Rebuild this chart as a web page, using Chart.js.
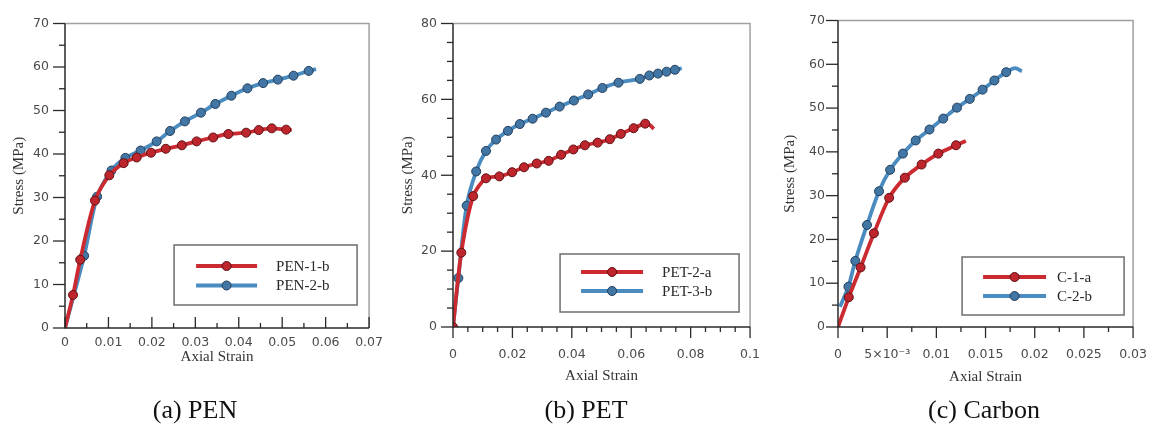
<!DOCTYPE html>
<html><head><meta charset="utf-8">
<script src="https://cdn.jsdelivr.net/npm/chart.js@4.4.0/dist/chart.umd.min.js"></script>
<style>
body{margin:0;background:#fff;width:1167px;height:429px;overflow:hidden;position:relative}
.p{position:absolute;top:0;width:390px;height:429px}
</style></head><body>
<div class="p" style="left:0px"><canvas id="ca"></canvas></div>
<div class="p" style="left:390px"><canvas id="cb"></canvas></div>
<div class="p" style="left:777px"><canvas id="cc"></canvas></div>
<script>
// ---------- data ----------
const PEN1B_STRAIN = [0, 0.00185, 0.0035, 0.0069, 0.0102, 0.0135, 0.0165, 0.0198, 0.0232, 0.0269, 0.0303, 0.0341, 0.0376, 0.0417, 0.0446, 0.0476, 0.0509, 0.0522];
const PEN1B_STRESS = [0, 7.6, 15.7, 29.3, 35.1, 37.9, 39.2, 40.3, 41.2, 42.0, 42.9, 43.8, 44.6, 44.9, 45.5, 45.9, 45.6, 45.5];
const PEN2B_STRAIN = [0, 0.0044, 0.0074, 0.0107, 0.0139, 0.0174, 0.0211, 0.0242, 0.0276, 0.0313, 0.0346, 0.0383, 0.0420, 0.0456, 0.0490, 0.0526, 0.0561, 0.0578];
const PEN2B_STRESS = [0, 16.6, 30.2, 36.2, 39.1, 40.8, 42.9, 45.3, 47.5, 49.5, 51.5, 53.4, 55.1, 56.3, 57.1, 58.0, 59.1, 59.5];

const PET2A_STRAIN = [0, 0.0028, 0.0068, 0.0111, 0.0156, 0.0199, 0.0239, 0.0282, 0.0322, 0.0364, 0.0405, 0.0444, 0.0487, 0.0528, 0.0565, 0.0608, 0.0647, 0.0663, 0.0676];
const PET2A_STRESS = [0, 19.6, 34.5, 39.2, 39.7, 40.8, 42.1, 43.1, 43.8, 45.4, 46.8, 47.9, 48.6, 49.5, 50.9, 52.4, 53.6, 53.2, 52.2];
const PET3B_STRAIN = [0, 0.0018, 0.0046, 0.0078, 0.0111, 0.0145, 0.0185, 0.0225, 0.0268, 0.0313, 0.0359, 0.0407, 0.0455, 0.0503, 0.0557, 0.0629, 0.0661, 0.0690, 0.0719, 0.0747, 0.0770];
const PET3B_STRESS = [0, 12.9, 32.0, 41.0, 46.4, 49.4, 51.7, 53.5, 54.9, 56.5, 58.1, 59.7, 61.3, 63.0, 64.4, 65.4, 66.3, 66.8, 67.3, 67.8, 68.2];

const C1A_STRAIN = [0, 0.0011, 0.0023, 0.00365, 0.0052, 0.0068, 0.0085, 0.0102, 0.0120, 0.0130];
const C1A_STRESS = [0, 6.8, 13.6, 21.4, 29.5, 34.1, 37.1, 39.6, 41.5, 42.5];
const C2B_STRAIN = [0.0002, 0.00106, 0.00176, 0.00295, 0.00417, 0.0053, 0.0066, 0.0079, 0.0093, 0.0107, 0.0121, 0.0134, 0.0147, 0.0159, 0.0171, 0.0180, 0.0187];
const C2B_STRESS = [4.6, 9.2, 15.1, 23.3, 31.0, 35.9, 39.6, 42.6, 45.1, 47.6, 50.1, 52.1, 54.2, 56.3, 58.2, 59.1, 58.4];

const X_TICKS_A = ['0', '0.01', '0.02', '0.03', '0.04', '0.05', '0.06', '0.07'];
const X_TICKS_B = ['0', '0.02', '0.04', '0.06', '0.08', '0.1'];
const X_TICKS_C = ['0', '5×10⁻³', '0.01', '0.015', '0.02', '0.025', '0.03'];
const Y_TICKS_A = ['0', '10', '20', '30', '40', '50', '60', '70'];
const Y_TICKS_B = ['0', '20', '40', '60', '80'];
const Y_TICKS_C = ['0', '10', '20', '30', '40', '50', '60', '70'];

const CAPTIONS = ['(a) PEN', '(b) PET', '(c) Carbon'];
const X_TITLE = 'Axial Strain';
const Y_TITLE = 'Stress (MPa)';

// ---------- styles ----------
const RED = {line: '#cc2a31', fill: '#bf252c', edge: '#5c1216'};
const BLUE = {line: '#4a8bc0', fill: '#4276a5', edge: '#243f5c'};
const H = 390;
const SERIF = '"Liberation Serif", "Times New Roman", "DejaVu Serif", serif';

const pts = (xs, ys) => xs.map((x, i) => ({x, y: ys[i]}));

function ds(label, xs, ys, col, hideFirst, tail) {
  const n = xs.length;
  return {
    label, data: pts(xs, ys),
    borderColor: col.line, borderWidth: 3.8,
    pointBackgroundColor: col.fill, pointBorderColor: col.edge, pointBorderWidth: 1,
    pointRadius: c => ((hideFirst && c.dataIndex === 0) || c.dataIndex >= n - tail) ? 0 : 4.5,
    tension: 0.3, fill: false
  };
}

const framePlugin = {
  id: 'frame',
  afterDraw(chart) {
    const o = chart.options.plugins.frame;
    const {ctx, chartArea: a, scales: {x, y}} = chart;
    ctx.save();
    ctx.lineCap = 'butt';
    ctx.strokeStyle = '#a0a0a0'; ctx.lineWidth = 1.5;
    ctx.beginPath(); ctx.moveTo(a.left, a.top); ctx.lineTo(a.right, a.top); ctx.lineTo(a.right, a.bottom); ctx.stroke();
    ctx.strokeStyle = '#2a2a2a'; ctx.lineWidth = 1.5;
    ctx.beginPath(); ctx.moveTo(a.left, a.top); ctx.lineTo(a.left, a.bottom); ctx.lineTo(a.right, a.bottom); ctx.stroke();
    ctx.lineWidth = 1.3;
    let n = Math.round(o.xMax / o.xMinor), k = Math.round(o.xMajor / o.xMinor);
    for (let i = 0; i <= n; i++) {
      const px = x.getPixelForValue(i * o.xMinor);
      const len = (i % k === 0) ? 11 : 5;
      ctx.beginPath(); ctx.moveTo(px, a.bottom); ctx.lineTo(px, a.bottom + o.xDir * len); ctx.stroke();
    }
    n = Math.round(o.yMax / o.yMinor); k = Math.round(o.yMajor / o.yMinor);
    for (let i = 0; i <= n; i++) {
      const py = y.getPixelForValue(i * o.yMinor);
      const len = (i % k === 0) ? 12 : 6;
      ctx.beginPath(); ctx.moveTo(a.left, py); ctx.lineTo(a.left - len, py); ctx.stroke();
    }
    const L = o.legend;
    const bx = a.right - L.inR - L.w, by = a.bottom - L.inB - L.h;
    ctx.fillStyle = '#fff'; ctx.fillRect(bx, by, L.w, L.h);
    ctx.strokeStyle = '#6e6e6e'; ctx.lineWidth = 1.5; ctx.strokeRect(bx, by, L.w, L.h);
    chart.data.datasets.forEach((d, i) => {
      const ly = by + L.y0 + i * L.dy;
      ctx.strokeStyle = d.borderColor; ctx.lineWidth = 3.8;
      ctx.beginPath(); ctx.moveTo(bx + L.x0, ly); ctx.lineTo(bx + L.x1, ly); ctx.stroke();
      ctx.fillStyle = d.pointBackgroundColor; ctx.strokeStyle = d.pointBorderColor; ctx.lineWidth = 1;
      ctx.beginPath(); ctx.arc(bx + (L.x0 + L.x1) / 2, ly, 4.5, 0, Math.PI * 2); ctx.fill(); ctx.stroke();
      ctx.fillStyle = '#2a2a2a'; ctx.font = '15px ' + SERIF; ctx.textBaseline = 'middle'; ctx.textAlign = 'left';
      ctx.fillText(d.label, bx + L.tx, ly + 1);
    });
    // caption under the panel
    ctx.fillStyle = '#111'; ctx.font = '26px ' + SERIF; ctx.textAlign = 'center'; ctx.textBaseline = 'alphabetic';
    ctx.fillText(o.caption, o.capX, 418);
    ctx.restore();
  }
};

function makeChart(id, p) {
  new Chart(document.getElementById(id), {
    type: 'line',
    data: {datasets: p.sets},
    plugins: [framePlugin],
    options: {
      responsive: true, maintainAspectRatio: false, animation: false, events: [],
      layout: {padding: {left: 0, top: p.top, right: 390 - p.right, bottom: 429 - H}},
      plugins: {
        legend: {display: false}, tooltip: {enabled: false},
        frame: {xMax: p.xMax, xMajor: p.xMajor, xMinor: p.xMinor, xDir: p.xDir,
                yMax: p.yMax, yMajor: p.yMajor, yMinor: p.yMinor, legend: p.legend,
                caption: p.caption, capX: p.capX}
      },
      scales: {
        x: {
          type: 'linear', min: 0, max: p.xMax,
          afterFit: s => { s.height = H - p.bottom; },
          border: {display: false},
          grid: {display: false, drawTicks: false},
          ticks: {stepSize: p.xMajor, padding: p.xPad, color: '#4a4a4a', maxRotation: 0, autoSkip: false,
                  font: {family: '"DejaVu Sans", sans-serif', size: 12.5},
                  callback: (v, i) => p.xLabels[i]},
          title: {display: true, text: X_TITLE, color: '#333', padding: {top: 0, bottom: p.xTitleB},
                  font: {family: SERIF, size: 15}}
        },
        y: {
          type: 'linear', min: 0, max: p.yMax,
          afterFit: s => { s.width = p.left; },
          border: {display: false},
          grid: {display: false, drawTicks: false},
          ticks: {stepSize: p.yMajor, padding: p.yPad, color: '#4a4a4a', autoSkip: false,
                  font: {family: '"DejaVu Sans", sans-serif', size: 12.5},
                  callback: (v, i) => p.yLabels[i]},
          title: {display: true, text: Y_TITLE, color: '#333', padding: {top: p.yTitleT, bottom: 0},
                  font: {family: SERIF, size: 15}}
        }
      }
    }
  });
}

makeChart('ca', {
  left: 65, top: 14, right: 380, bottom: 328, caption: CAPTIONS[0], capX: 195,
  xMax: 0.07, xMajor: 0.01, xMinor: 0.005, xDir: -1, xLabels: X_TICKS_A, xPad: 7, xTitleB: 24,
  yMax: 70, yMajor: 10, yMinor: 5, yLabels: Y_TICKS_A, yPad: 16, yTitleT: 10,
  legend: {w: 183, h: 60, inR: 12, inB: 23, x0: 22, x1: 83, y0: 21, dy: 19.5, tx: 102},
  sets: [
    ds('PEN-1-b', PEN1B_STRAIN, PEN1B_STRESS, RED, true, 1),
    ds('PEN-2-b', PEN2B_STRAIN, PEN2B_STRESS, BLUE, true, 1)
  ]
});

makeChart('cb', {
  left: 63, top: 16, right: 375, bottom: 327, caption: CAPTIONS[1], capX: 196,
  xMax: 0.1, xMajor: 0.02, xMinor: 0.005, xDir: 1, xLabels: X_TICKS_B, xPad: 20, xTitleB: 5,
  yMax: 80, yMajor: 20, yMinor: 5, yLabels: Y_TICKS_B, yPad: 16, yTitleT: 9,
  legend: {w: 179, h: 58, inR: 11, inB: 15, x0: 21, x1: 83, y0: 18, dy: 19, tx: 102},
  sets: [
    ds('PET-2-a', PET2A_STRAIN, PET2A_STRESS, RED, false, 2),
    ds('PET-3-b', PET3B_STRAIN, PET3B_STRESS, BLUE, true, 1)
  ]
});

makeChart('cc', {
  left: 61, top: 16, right: 373, bottom: 327, caption: CAPTIONS[2], capX: 207,
  xMax: 0.03, xMajor: 0.005, xMinor: 0.0025, xDir: 1, xLabels: X_TICKS_C, xPad: 20, xTitleB: 4,
  yMax: 70, yMajor: 10, yMinor: 5, yLabels: Y_TICKS_C, yPad: 13, yTitleT: 4,
  legend: {w: 162, h: 58, inR: 9, inB: 12, x0: 21, x1: 84, y0: 20, dy: 19, tx: 95},
  sets: [
    ds('C-1-a', C1A_STRAIN, C1A_STRESS, RED, true, 1),
    ds('C-2-b', C2B_STRAIN, C2B_STRESS, BLUE, true, 2)
  ]
});
</script>
</body></html>
